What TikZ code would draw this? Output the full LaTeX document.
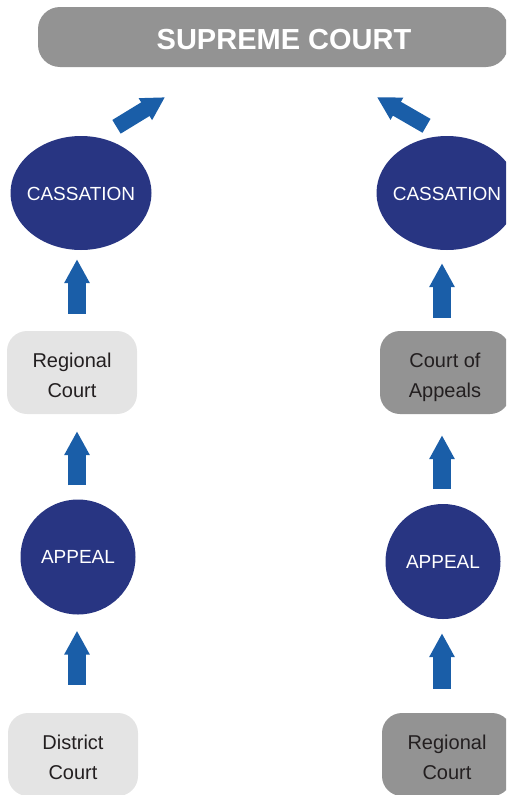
\documentclass[tikz,border=0pt]{standalone}
\usepackage{fontspec}
\setmainfont{Liberation Sans}
\usetikzlibrary{arrows.meta,shapes.geometric}
\definecolor{navy}{HTML}{283582}
\definecolor{arrowblue}{HTML}{1A5EA8}
\definecolor{lightbox}{HTML}{E4E4E4}
\definecolor{darkbox}{HTML}{939393}
\definecolor{txt}{HTML}{231F20}
\newcommand{\twolines}[2]{\begin{tabular}{@{}c@{}}#1\\#2\end{tabular}}
\begin{document}
\begin{tikzpicture}[x=1pt,y=-1pt,
  courtbox/.style={rounded corners=20pt, minimum width=130pt, minimum height=83pt, inner sep=0pt, text=txt, text height=40pt, text depth=21pt, font=\fontsize{20}{30}\selectfont},
  lightcourt/.style={courtbox, fill=lightbox},
  darkcourt/.style={courtbox, fill=darkbox},
  supbox/.style={fill=darkbox, rounded corners=22pt, minimum width=470pt, minimum height=60pt, inner sep=0pt, text=white, text height=26pt, text depth=0.2pt, font=\bfseries\fontsize{29}{29}\selectfont},
  cass/.style={ellipse, fill=navy, minimum width=141pt, minimum height=114pt, inner xsep=-25pt, inner ysep=0pt, text=white, text height=15.6pt, text depth=0pt, font=\fontsize{19}{19}\selectfont},
  appeal/.style={circle, fill=navy, minimum size=115pt, inner sep=-15pt, text=white, font=\fontsize{19}{19}\selectfont},
  blockarrow/.style={draw=arrowblue, line width=18pt, -{Triangle[width=24pt,length=24pt]}},
  diagarrow/.style={draw=arrowblue, line width=16pt, -{Triangle[width=24pt,length=23pt]}}
]
\useasboundingbox (0,0) rectangle (506,795);
\clip (0,0) rectangle (506,795);

\node[supbox] (sup) at (273,37) {\hspace*{22pt}SUPREME COURT};

\node[cass] (cassL) at (81,193) {CASSATION};
\node[cass] (cassR) at (447,193) {CASSATION};
\node[lightcourt] (regL) at (72,372.5) {\twolines{Regional}{Court}};
\node[darkcourt] (coaR) at (445,372.5) {\twolines{Court of}{Appeals}};
\node[appeal] (appL) at (78,557) {APPEAL};
\node[appeal] (appR) at (443,561.5) {APPEAL};
\node[lightcourt] (distL) at (73,754.5) {\twolines{District}{Court}};
\node[darkcourt] (regR) at (447,754.5) {\twolines{Regional}{Court}};

% left column
\draw[blockarrow] ([xshift=4pt,yshift=28pt]distL.north) -- ([xshift=-1pt,yshift=-16pt]appL.south);
\draw[blockarrow] ([xshift=-1pt,yshift=14pt]appL.north) -- ([xshift=5pt,yshift=-17pt]regL.south);
\draw[blockarrow] ([xshift=5pt,yshift=17pt]regL.north) -- ([xshift=-4pt,yshift=-9pt]cassL.south);
% right column
\draw[blockarrow] ([xshift=-5pt,yshift=24pt]regR.north) -- ([xshift=-1pt,yshift=-14pt]appR.south);
\draw[blockarrow] ([xshift=-1pt,yshift=15pt]appR.north) -- ([xshift=-3pt,yshift=-21pt]coaR.south);
\draw[blockarrow] ([xshift=-3pt,yshift=13pt]coaR.north) -- ([xshift=-5pt,yshift=-13pt]cassR.south);
% to supreme court
\draw[diagarrow] ([xshift=35.5pt,yshift=9pt]cassL.north) -- ([xshift=-108pt,yshift=-30pt]sup.south);
\draw[diagarrow] ([xshift=-20.5pt,yshift=10pt]cassR.north) -- ([xshift=104pt,yshift=-30pt]sup.south);
\end{tikzpicture}
\end{document}
